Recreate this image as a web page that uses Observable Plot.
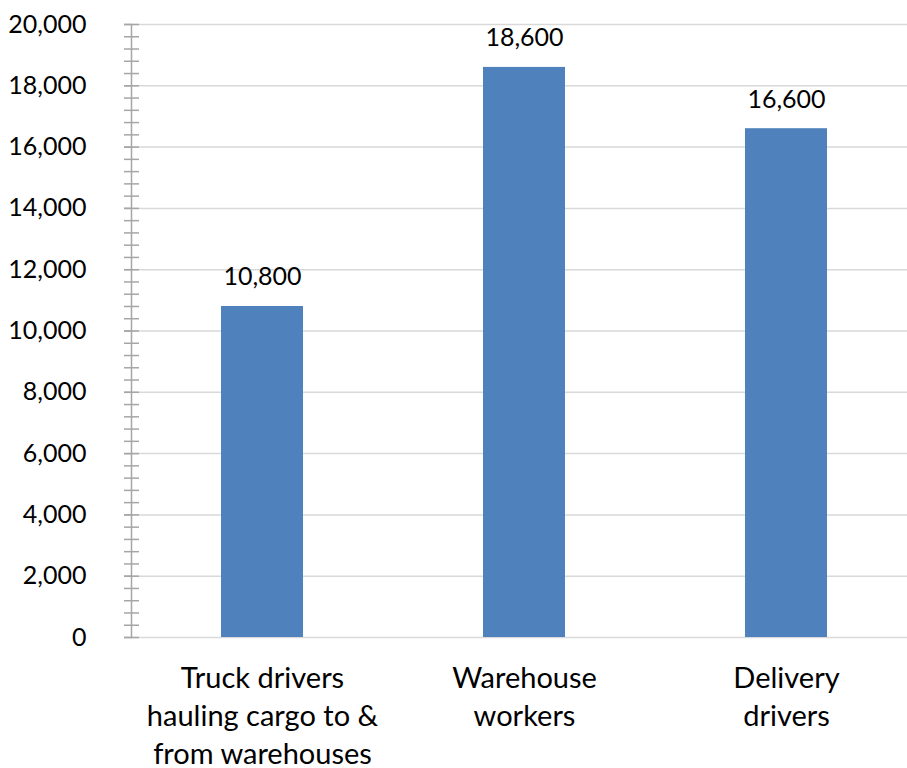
<!DOCTYPE html>
<html>
<head>
<meta charset="utf-8">
<script src="https://cdn.jsdelivr.net/npm/d3@7"></script>
<script src="https://cdn.jsdelivr.net/npm/@observablehq/plot@0.6"></script>
<style>
  html, body { margin: 0; padding: 0; background: #fff; }
  #chart { width: 907px; height: 768px; }
</style>
</head>
<body>
<div id="chart"></div>
<script>
const categories = ["Truck drivers\nhauling cargo to &\nfrom warehouses", "Warehouse\nworkers", "Delivery\ndrivers"];
const values = [10800, 18600, 16600];
const majorTicks = [0, 2000, 4000, 6000, 8000, 10000, 12000, 14000, 16000, 18000, 20000];
const minorTicks = [0, 400, 800, 1200, 1600, 2000, 2400, 2800, 3200, 3600, 4000, 4400, 4800, 5200, 5600, 6000, 6400, 6800, 7200, 7600, 8000, 8400, 8800, 9200, 9600, 10000, 10400, 10800, 11200, 11600, 12000, 12400, 12800, 13200, 13600, 14000, 14400, 14800, 15200, 15600, 16000, 16400, 16800, 17200, 17600, 18000, 18400, 18800, 19200, 19600, 20000];

const data = categories.map((c, i) => ({category: c, value: values[i]}));
const fmt = d3.format(",");
const font = "Lato, 'Open Sans', sans-serif";

const chart = Plot.plot({
  width: 907,
  height: 768,
  marginTop: 24,
  marginBottom: 131,
  marginLeft: 131,
  marginRight: -10,
  style: {fontFamily: font, fontSize: "23px", color: "#000", background: "#fff", overflow: "visible"},
  x: {domain: categories, paddingInner: 0.687, paddingOuter: 0.3435, label: null},
  y: {domain: [0, 20000], label: null},
  marks: [
    Plot.ruleY(majorTicks, {stroke: "#d9d9d9", strokeWidth: 1.5}),
    Plot.barY(data, {x: "category", y: "value", fill: "#4f81bd"}),
    Plot.text(data, {x: "category", y: "value", text: d => fmt(d.value), dy: -29, fontSize: 25, fill: "#000"}),
    Plot.frame({anchor: "left", stroke: "#a6a6a6", strokeWidth: 1.5}),
    Plot.axisY(minorTicks, {tickSize: 15, dx: 8, text: null, label: null, stroke: "#a6a6a6", strokeWidth: 1.5}),
    Plot.axisY(majorTicks, {tickSize: 7, tickPadding: 38, tickFormat: d => fmt(d), label: null, stroke: "#a6a6a6", strokeWidth: 1.5, fill: "#000", fontSize: 25}),
    Plot.axisX({tickSize: 0, tickPadding: 23, lineHeight: 1.32, fontSize: 29, fill: "#000", label: null})
  ]
});
document.getElementById("chart").appendChild(chart);
</script>
</body>
</html>
